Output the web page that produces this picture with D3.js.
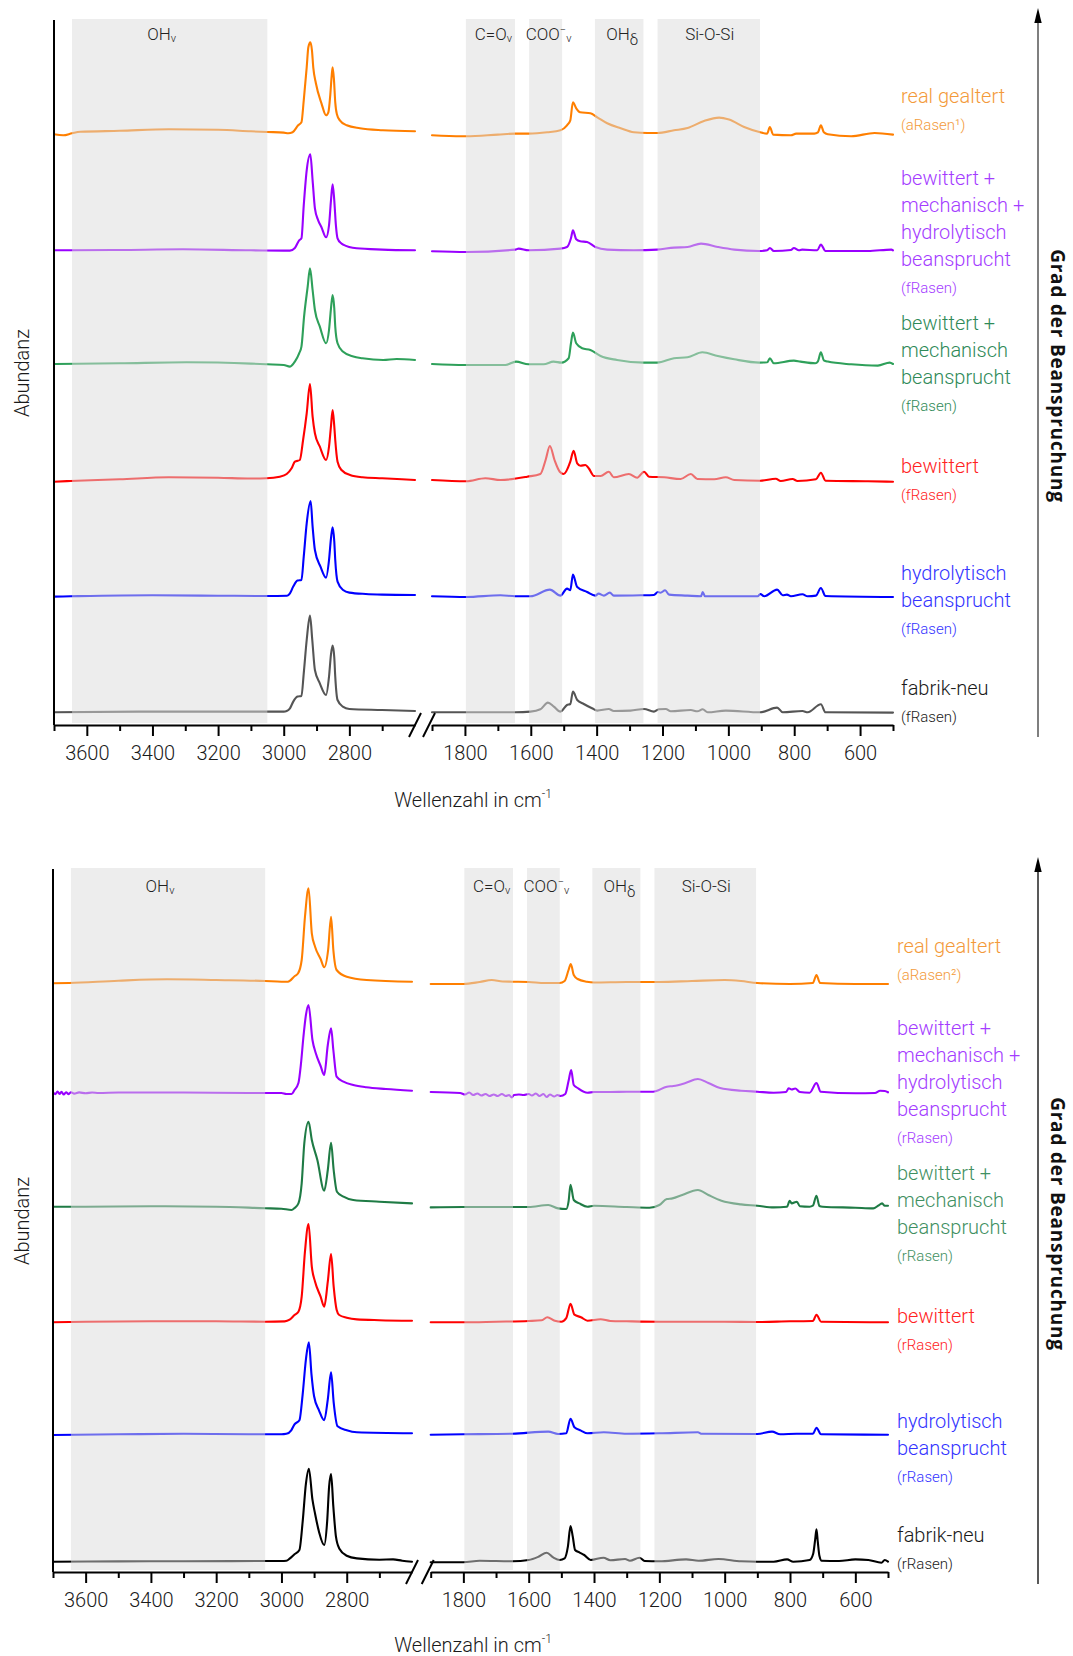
<!DOCTYPE html>
<html><head><meta charset="utf-8">
<script src="https://cdn.jsdelivr.net/npm/d3@7"></script>
<style>
html,body{margin:0;padding:0;background:#fff;}
svg{display:block;font-family:Roboto,"Noto Sans",sans-serif;}
</style></head><body>
<svg id="chart" width="1073" height="1656"></svg>
<script>
// ---------------- DATA ----------------
const domainLeft = [3700, 2600];
const domainRight = [1900, 500];
const majorTicksLeft = [3600, 3400, 3200, 3000, 2800];
const minorTicksLeft = [3700, 3500, 3300, 3100, 2900, 2700];
const majorTicksRight = [1800, 1600, 1400, 1200, 1000, 800, 600];
const minorTicksRight = [1900, 1700, 1500, 1300, 1100, 900, 700, 500];
const bandRanges = [[3645, 3050], [1797, 1648], [1605, 1505], [1405, 1258], [1215, 904]];
const bandLabelParts = [
  [["OH", ""], ["ν", "sub"]],
  [["C=O", ""], ["ν", "sub"]],
  [["COO", ""], ["−", "sup"], ["ν", "sub"]],
  [["OH", ""], ["δ", "subd"]],
  [["Si-O-Si", ""]]
];
const seriesKeys = ["real gealtert", "bewittert + mechanisch + hydrolytisch beansprucht", "bewittert + mechanisch beansprucht", "bewittert", "hydrolytisch beansprucht", "fabrik-neu"];
const labelLines = [["real gealtert"], ["bewittert +", "mechanisch +", "hydrolytisch", "beansprucht"], ["bewittert +", "mechanisch", "beansprucht"], ["bewittert"], ["hydrolytisch", "beansprucht"], ["fabrik-neu"]];
const subLabelsTop = ["(aRasen¹)", "(fRasen)", "(fRasen)", "(fRasen)", "(fRasen)", "(fRasen)"];
const subLabelsBottom = ["(aRasen²)", "(rRasen)", "(rRasen)", "(rRasen)", "(rRasen)", "(rRasen)"];
const offsetsTop = [5.907, 4.747, 3.617, 2.44, 1.287, 0.127];
const offsetsBottom = [5.89, 4.79, 3.653, 2.503, 1.377, 0.103];
const xAxisTitle = "Wellenzahl in cm";
const yAxisTitle = "Abundanz";
const arrowTitle = "Grad der Beanspruchung";

// ---- top panel spectra [wavenumber, intensity above offset] ----
const topOrangeL = [[3700,0],[3672,-0.01],[3645,0.01],[3620,0.025],[3500,0.035],[3350,0.05],[3200,0.045],[3100,0.03],[3050,0.023],[3000,0.017],[2986,0.01],[2973,0.02],[2956,0.09],[2946,0.12],[2939,0.34],[2930,0.67],[2925,0.87],[2919,0.92],[2914,0.84],[2910,0.67],[2902,0.51],[2885,0.31],[2871,0.19],[2864,0.22],[2858,0.40],[2854,0.58],[2851,0.67],[2847,0.55],[2843,0.32],[2838,0.20],[2829,0.14],[2808,0.09],[2768,0.06],[2698,0.04],[2600,0.03]];
const topOrangeR = [[1900,-0.01],[1810,-0.02],[1796,-0.02],[1700,-0.003],[1647,0.007],[1607,0.007],[1550,0.02],[1510,0.04],[1490,0.09],[1480,0.14],[1472,0.32],[1462,0.26],[1450,0.22],[1419,0.21],[1398,0.17],[1368,0.11],[1327,0.06],[1287,0.02],[1246,0.013],[1216,0.013],[1165,0.04],[1124,0.063],[1074,0.133],[1028,0.167],[998,0.147],[952,0.073],[906,0.023],[882,0.007],[874,0.073],[864,-0.003],[810,-0.01],[794,0.007],[739,0.007],[728,0.02],[719,0.09],[710,0.02],[698,0.0],[627,-0.02],[556,0.013],[500,-0.003]];
const topPurpleL = [[3700,0],[3650,0],[3500,0.003],[3307,0.01],[3100,0.0],[3000,-0.003],[2981,-0.003],[2966,0.023],[2953,0.10],[2946,0.12],[2939,0.45],[2930,0.80],[2919,0.96],[2912,0.70],[2905,0.42],[2895,0.30],[2885,0.23],[2871,0.13],[2862,0.25],[2856,0.50],[2851,0.66],[2846,0.50],[2841,0.25],[2836,0.12],[2825,0.07],[2819,0.057],[2778,0.02],[2700,0.007],[2600,0.0]];
const topPurpleR = [[1900,-0.01],[1796,-0.017],[1647,0.007],[1637,0.017],[1607,0.0],[1510,0.017],[1490,0.033],[1478,0.12],[1472,0.20],[1462,0.11],[1450,0.09],[1429,0.083],[1404,0.033],[1368,0.007],[1287,0.0],[1216,0.007],[1165,0.027],[1124,0.033],[1083,0.067],[1032,0.033],[982,0.007],[906,-0.007],[882,0.0],[874,0.023],[862,-0.007],[810,0.003],[801,0.023],[786,0.0],[776,0.007],[730,0.0],[719,0.057],[705,-0.007],[576,-0.007],[505,0.007],[500,0.0]];
const topGreenL = [[3700,-0.007],[3500,0.0],[3296,0.01],[3100,-0.003],[3050,-0.01],[3000,-0.017],[2981,-0.033],[2966,0.017],[2953,0.10],[2946,0.167],[2938,0.467],[2927,0.767],[2920,0.95],[2912,0.733],[2905,0.533],[2890,0.367],[2871,0.20],[2862,0.333],[2856,0.55],[2851,0.683],[2846,0.55],[2843,0.367],[2836,0.20],[2820,0.117],[2788,0.067],[2760,0.05],[2697,0.033],[2656,0.043],[2600,0.033]];
const topGreenR = [[1900,-0.007],[1800,-0.017],[1677,-0.017],[1645,0.017],[1607,-0.01],[1561,-0.01],[1531,0.017],[1507,0.007],[1485,0.05],[1478,0.20],[1472,0.307],[1462,0.20],[1444,0.15],[1419,0.133],[1388,0.073],[1338,0.033],[1257,0.007],[1216,0.007],[1165,0.05],[1124,0.06],[1079,0.11],[1032,0.073],[982,0.04],[906,0.007],[882,0.01],[874,0.05],[862,0.0],[801,0.027],[781,0.017],[736,0.0],[728,0.02],[719,0.11],[710,0.03],[698,0.017],[627,-0.01],[546,-0.023],[510,0.007],[500,-0.007]];
const topRedL = [[3700,-0.007],[3650,0.0],[3500,0.017],[3350,0.037],[3200,0.033],[3100,0.025],[3053,0.027],[3012,0.043],[2991,0.07],[2976,0.127],[2966,0.193],[2951,0.21],[2941,0.41],[2930,0.677],[2920,0.97],[2912,0.643],[2905,0.477],[2890,0.343],[2871,0.21],[2862,0.343],[2856,0.55],[2851,0.71],[2846,0.55],[2843,0.41],[2836,0.193],[2824,0.11],[2798,0.06],[2760,0.037],[2700,0.027],[2600,0.01]];
const topRedR = [[1900,0.01],[1796,-0.003],[1738,0.027],[1692,0.01],[1611,0.043],[1571,0.07],[1555,0.21],[1542,0.35],[1528,0.21],[1512,0.093],[1500,0.07],[1480,0.193],[1470,0.303],[1459,0.177],[1449,0.153],[1434,0.16],[1424,0.127],[1408,0.05],[1388,0.05],[1363,0.093],[1348,0.037],[1302,0.07],[1277,0.033],[1256,0.093],[1241,0.043],[1195,0.037],[1145,0.02],[1114,0.07],[1094,0.02],[1043,0.017],[1008,0.037],[982,0.01],[903,0.003],[856,0.023],[841,0.0],[805,0.02],[790,0.0],[734,0.017],[719,0.083],[705,0.003],[576,-0.003],[500,-0.007]];
const topBlueL = [[3700,-0.003],[3650,0],[3400,0.01],[3200,0.006],[3050,0.003],[2990,0.006],[2981,0.03],[2971,0.097],[2958,0.157],[2946,0.163],[2939,0.397],[2930,0.73],[2918,0.953],[2912,0.697],[2905,0.463],[2888,0.297],[2871,0.187],[2862,0.363],[2856,0.58],[2851,0.69],[2846,0.55],[2843,0.363],[2836,0.147],[2819,0.063],[2800,0.037],[2750,0.023],[2700,0.017],[2600,0.013]];
const topBlueR = [[1900,0],[1796,-0.007],[1692,0.01],[1647,0.0],[1601,0.0],[1542,0.067],[1510,0.007],[1490,0.077],[1480,0.06],[1472,0.217],[1459,0.093],[1429,0.043],[1404,0.007],[1394,0.027],[1378,0.007],[1360,0.037],[1348,0.007],[1267,0.01],[1226,0.013],[1214,0.043],[1206,0.035],[1192,0.06],[1180,0.017],[1124,0.007],[1083,0.0],[1078,0.043],[1071,0.0],[982,0.0],[911,0.0],[903,0.023],[891,0.0],[852,0.067],[835,0.01],[822,0.017],[810,0.0],[775,0.02],[759,0.0],[734,0.007],[719,0.083],[705,0.003],[500,-0.007]];
const topGrayL = [[3700,0],[3400,0.007],[3000,0.007],[2991,0.013],[2981,0.04],[2971,0.107],[2958,0.157],[2946,0.163],[2939,0.39],[2930,0.723],[2920,0.967],[2913,0.723],[2905,0.423],[2890,0.29],[2871,0.173],[2862,0.357],[2856,0.58],[2851,0.667],[2846,0.55],[2843,0.357],[2836,0.123],[2820,0.057],[2800,0.033],[2700,0.023],[2600,0.013]];
const topGrayR = [[1900,0],[1647,0.0],[1601,0.007],[1571,0.03],[1548,0.097],[1530,0.057],[1510,0.007],[1490,0.073],[1480,0.083],[1472,0.207],[1459,0.123],[1439,0.083],[1414,0.04],[1398,0.017],[1363,0.033],[1348,0.013],[1297,0.017],[1256,0.033],[1226,0.007],[1211,0.03],[1190,0.033],[1175,0.01],[1114,0.023],[1094,0.01],[1078,0.03],[1063,0.0],[1008,0.017],[903,0.0],[852,0.047],[835,0.0],[775,0.013],[759,0.0],[719,0.08],[705,0.0],[500,-0.003]];

// ---- bottom panel spectra ----
const botOrangeL = [[3700,-0.003],[3650,0.0],[3500,0.023],[3350,0.037],[3200,0.03],[3050,0.02],[3000,0.013],[2980,0.013],[2959,0.07],[2949,0.097],[2938,0.23],[2928,0.66],[2917,0.947],[2907,0.497],[2897,0.363],[2880,0.24],[2869,0.157],[2857,0.33],[2848,0.663],[2841,0.33],[2831,0.13],[2800,0.063],[2739,0.03],[2600,0.013]];
const botOrangeR = [[1900,-0.01],[1800,-0.01],[1750,0.01],[1713,0.03],[1680,0.015],[1650,0.013],[1600,0.01],[1550,0.0],[1505,0.0],[1490,0.02],[1478,0.13],[1471,0.19],[1462,0.08],[1450,0.04],[1422,0.013],[1400,0.005],[1300,0.01],[1200,0.01],[1100,0.02],[1000,0.03],[950,0.02],[900,0.0],[800,-0.01],[730,0.0],[719,0.08],[708,0.0],[600,-0.01],[500,-0.01]];
const botPurpleL = [[3700,0.01],[3693,-0.012],[3686,0.015],[3680,-0.01],[3674,0.012],[3667,-0.015],[3660,0.008],[3652,-0.012],[3645,0.008],[3635,-0.006],[3620,0.006],[3600,-0.003],[3580,0.005],[3560,0.0],[3500,0.005],[3300,0.005],[3100,0.0],[3000,0.0],[2985,-0.01],[2969,-0.01],[2960,0.03],[2948,0.10],[2940,0.30],[2933,0.55],[2925,0.78],[2917,0.88],[2905,0.53],[2895,0.40],[2880,0.27],[2869,0.18],[2858,0.48],[2848,0.647],[2841,0.43],[2831,0.163],[2810,0.113],[2780,0.08],[2740,0.057],[2680,0.04],[2600,0.023]];
const botPurpleR = [[1900,0.01],[1810,0.0],[1795,-0.015],[1782,0.005],[1770,-0.02],[1757,-0.005],[1745,-0.025],[1732,-0.01],[1720,-0.03],[1707,-0.015],[1695,-0.03],[1682,-0.01],[1670,-0.03],[1660,-0.02],[1652,-0.045],[1645,-0.02],[1630,-0.015],[1615,-0.02],[1600,-0.01],[1590,-0.025],[1578,-0.005],[1567,-0.03],[1555,-0.01],[1545,-0.04],[1535,-0.015],[1522,-0.035],[1512,-0.02],[1503,-0.03],[1488,-0.01],[1478,0.12],[1470,0.23],[1462,0.08],[1450,0.05],[1420,0.003],[1400,0.01],[1350,0.01],[1300,0.013],[1219,0.013],[1177,0.063],[1157,0.07],[1120,0.10],[1082,0.14],[1050,0.10],[1014,0.05],[950,0.023],[900,0.013],[850,0.003],[812,0.01],[804,0.047],[795,0.035],[784,0.045],[770,0.01],[740,0.003],[719,0.10],[706,0.013],[600,-0.003],[540,0.0],[524,0.023],[510,0.02],[500,0.007]];
const botGreenL = [[3700,0.0],[3600,0.0],[3400,0.005],[3200,0.0],[3050,-0.015],[3000,-0.02],[2969,-0.033],[2960,-0.013],[2948,0.033],[2938,0.233],[2930,0.633],[2917,0.85],[2907,0.667],[2890,0.467],[2869,0.16],[2858,0.367],[2848,0.64],[2840,0.367],[2830,0.15],[2810,0.10],[2780,0.067],[2700,0.05],[2600,0.033]];
const botGreenR = [[1900,-0.007],[1800,-0.003],[1700,-0.003],[1600,-0.003],[1540,0.017],[1510,-0.017],[1485,-0.023],[1478,0.05],[1472,0.22],[1462,0.067],[1445,0.033],[1420,0.0],[1400,0.01],[1300,-0.003],[1230,-0.01],[1200,0.017],[1177,0.077],[1160,0.083],[1130,0.117],[1082,0.167],[1050,0.117],[1010,0.06],[950,0.023],[900,0.01],[850,-0.007],[809,0.0],[801,0.06],[795,0.033],[779,0.05],[770,0.005],[740,0.0],[730,0.01],[719,0.11],[710,0.007],[700,0.0],[600,-0.01],[545,-0.017],[530,0.01],[518,0.033],[510,0.01],[500,0.01]];
const botRedL = [[3700,-0.005],[3600,0.0],[3400,0.005],[3200,0.005],[3050,0.0],[2990,0.003],[2975,0.02],[2960,0.067],[2948,0.10],[2938,0.25],[2928,0.70],[2917,0.977],[2907,0.55],[2897,0.40],[2880,0.25],[2869,0.15],[2858,0.40],[2848,0.677],[2840,0.35],[2831,0.12],[2823,0.067],[2800,0.04],[2769,0.023],[2700,0.015],[2600,0.01]];
const botRedR = [[1900,-0.006],[1800,-0.006],[1700,0.0],[1600,0.007],[1560,0.014],[1543,0.045],[1520,0.01],[1500,0.0],[1485,0.035],[1472,0.18],[1460,0.07],[1440,0.045],[1420,0.01],[1380,0.025],[1350,0.007],[1300,0.004],[1200,0.0],[1000,0.0],[900,-0.003],[800,0.004],[730,0.007],[719,0.07],[705,0.0],[500,-0.006]];
const botBlueL = [[3700,-0.007],[3500,0.0],[3300,0.005],[3100,0.0],[3000,0.0],[2985,0.005],[2970,0.04],[2960,0.10],[2945,0.14],[2935,0.40],[2925,0.75],[2916,0.92],[2908,0.60],[2900,0.38],[2885,0.24],[2869,0.14],[2858,0.35],[2848,0.62],[2840,0.32],[2828,0.08],[2800,0.04],[2769,0.02],[2600,0.01]];
const botBlueR = [[1900,-0.004],[1800,0.0],[1650,0.006],[1540,0.027],[1510,0.003],[1485,0.01],[1472,0.155],[1460,0.07],[1440,0.037],[1420,0.01],[1370,0.02],[1300,0.006],[1200,0.01],[1082,0.02],[1070,0.005],[900,0.003],[855,0.027],[830,0.0],[780,0.006],[730,0.005],[719,0.065],[705,0.0],[500,-0.004]];
const botBlackL = [[3700,0],[3500,0.003],[3300,0.005],[3000,0.007],[2985,0.01],[2975,0.03],[2960,0.075],[2945,0.117],[2935,0.40],[2925,0.78],[2916,0.93],[2905,0.62],[2897,0.48],[2885,0.30],[2869,0.167],[2860,0.40],[2854,0.75],[2848,0.877],[2841,0.55],[2833,0.25],[2823,0.133],[2800,0.06],[2769,0.033],[2700,0.02],[2658,0.023],[2630,0.01],[2600,0.0]];
const botBlackR = [[1900,-0.006],[1800,-0.006],[1750,0.01],[1650,0.004],[1600,0.017],[1570,0.05],[1545,0.09],[1525,0.043],[1505,0.017],[1490,0.033],[1480,0.15],[1472,0.357],[1465,0.25],[1458,0.117],[1445,0.093],[1430,0.067],[1410,0.017],[1371,0.04],[1350,0.014],[1305,0.027],[1290,0.01],[1261,0.04],[1245,0.007],[1200,0.004],[1118,0.023],[1080,0.01],[1019,0.027],[950,0.004],[900,0.0],[850,0.0],[809,0.023],[790,0.0],[740,0.017],[729,0.08],[723,0.22],[719,0.324],[715,0.2],[710,0.06],[703,0.01],[650,0.007],[600,0.023],[560,0.017],[520,-0.01],[510,0.017],[500,0.0]];

const topSpectraL = [topOrangeL, topPurpleL, topGreenL, topRedL, topBlueL, topGrayL];
const topSpectraR = [topOrangeR, topPurpleR, topGreenR, topRedR, topBlueR, topGrayR];
const botSpectraL = [botOrangeL, botPurpleL, botGreenL, botRedL, botBlueL, botBlackL];
const botSpectraR = [botOrangeR, botPurpleR, botGreenR, botRedR, botBlueR, botBlackR];

// ---------------- LAYOUT / STYLE ----------------
const panels = [
  { spectraL: topSpectraL, spectraR: topSpectraR, offsets: offsetsTop, subs: subLabelsTop,
    xl: [54, 415], xr: [432, 893], yAxis: 725, yTop: 20,
    labelX: 901, labelY: [103, 185, 330, 473, 580, 695], bandLabelY: 40,
    titleY: 807, abundY: 373, gradY: 376, arrowTip: 8, arrowEnd: 737, arrowColor: "#555",
    lineColors: ["#ff7f00", "#9900ff", "#2ea05a", "#ff0000", "#0000ff", "#555555"],
    labelColors: ["#f39a3a", "#a43cff", "#2f8a58", "#ff2222", "#3333ff", "#1a1a1a"] },
  { spectraL: botSpectraL, spectraR: botSpectraR, offsets: offsetsBottom, subs: subLabelsBottom,
    xl: [53, 412], xr: [430.7, 888], yAxis: 1572, yTop: 869,
    labelX: 897, labelY: [953, 1035, 1180, 1323, 1428, 1542], bandLabelY: 892,
    titleY: 1652, abundY: 1221, gradY: 1224, arrowTip: 857, arrowEnd: 1584, arrowColor: "#222",
    lineColors: ["#ff7f00", "#9900ff", "#1f7b45", "#ff0000", "#0000ff", "#000000"],
    labelColors: ["#f39a3a", "#a43cff", "#3f9062", "#ff2222", "#3333ff", "#1a1a1a"] }
];
const bandLabelDx = [-8, 3, 3, 3, 1];

const svg = d3.select("#chart");

function drawPanel(p) {
  const g = svg.append("g");
  const xL = d3.scaleLinear().domain(domainLeft).range(p.xl);
  const xR = d3.scaleLinear().domain(domainRight).range(p.xr);
  const y = d3.scaleLinear().domain([0, (p.yAxis - p.yTop) / 100]).range([p.yAxis, p.yTop]);

  // spectra
  const gl = g.append("g");
  [[p.spectraL, xL], [p.spectraR, xR]].forEach(([set, xs]) => {
    set.forEach((arr, i) => {
      const off = p.offsets[i];
      const line = d3.line().x(d => xs(d[0])).y(d => y(d[1] + off)).curve(d3.curveMonotoneX);
      const data = arr.slice().sort((a, b) => b[0] - a[0]);
      gl.append("path").attr("d", line(data)).attr("fill", "none")
        .attr("stroke", p.lineColors[i]).attr("stroke-width", 2.1)
        .attr("stroke-linejoin", "round").attr("stroke-linecap", "round");
    });
  });

  // bands (semi-transparent overlay that lightens the traces below)
  const gb = g.append("g");
  bandRanges.forEach((b, i) => {
    const xs = b[0] > 2000 ? xL : xR;
    const x0 = xs(b[0]), x1 = xs(b[1]);
    gb.append("rect").attr("x", x0).attr("y", p.yTop - 1).attr("width", x1 - x0)
      .attr("height", p.yAxis - 2 - (p.yTop - 1)).attr("fill", "#dcdcdc").attr("fill-opacity", 0.5);
    const t = gb.append("text").attr("x", (x0 + x1) / 2 + bandLabelDx[i]).attr("y", p.bandLabelY)
      .attr("text-anchor", "middle").attr("font-size", 17).attr("font-weight", 300).attr("fill", "#222");
    let shift = 0;
    bandLabelParts[i].forEach(([txt, kind]) => {
      const s = t.append("tspan").text(txt);
      let target = 0, fs = 17;
      if (kind === "sub") { target = 2; fs = 11; }
      if (kind === "subd") { target = 5; fs = 15; }
      if (kind === "sup") { target = -7; fs = 11; }
      s.attr("dy", target - shift).attr("font-size", fs);
      shift = target;
    });
  });

  // axes
  const ga = g.append("g").attr("transform", `translate(0,${p.yAxis})`);
  [[xL, majorTicksLeft, minorTicksLeft], [xR, majorTicksRight, minorTicksRight]].forEach(([xs, maj, min]) => {
    const a1 = ga.append("g").call(d3.axisBottom(xs).tickValues(maj).tickSize(11).tickPadding(10).tickSizeOuter(0).tickFormat(d3.format("d")));
    const a2 = ga.append("g").call(d3.axisBottom(xs).tickValues(min).tickSize(6).tickSizeOuter(0).tickFormat(""));
    a2.select(".domain").remove();
    [a1, a2].forEach(a => {
      a.selectAll("line").attr("stroke", "#000").attr("stroke-width", 2);
      a.select(".domain").attr("stroke", "#000").attr("stroke-width", 2);
      a.selectAll("text").attr("font-size", 20).attr("font-weight", 300).attr("fill", "#1a1a1a")
        .attr("font-family", "Roboto, sans-serif");
    });
  });
  // axis break marks
  [xL(domainLeft[1]), xR(domainRight[0]) - 3].forEach(cx => {
    ga.append("line").attr("x1", cx - 6).attr("y1", 12).attr("x2", cx + 6).attr("y2", -12)
      .attr("stroke", "#000").attr("stroke-width", 2);
  });
  // y axis line
  g.append("line").attr("x1", p.xl[0]).attr("x2", p.xl[0]).attr("y1", p.yTop).attr("y2", p.yAxis)
    .attr("stroke", "#000").attr("stroke-width", 2);

  // axis titles
  const tt = g.append("text").attr("x", 473).attr("y", p.titleY).attr("text-anchor", "middle")
    .attr("font-size", 20).attr("font-weight", 300).attr("fill", "#1a1a1a");
  tt.append("tspan").text(xAxisTitle);
  tt.append("tspan").text("-1").attr("font-size", 12).attr("dy", -9);
  g.append("text").attr("transform", `translate(29,${p.abundY}) rotate(-90)`).attr("text-anchor", "middle")
    .attr("font-size", 20).attr("font-weight", 300).attr("fill", "#1a1a1a").text(yAxisTitle);

  // series labels
  labelLines.forEach((lines, i) => {
    let yy = p.labelY[i];
    lines.forEach((ln, k) => {
      g.append("text").attr("x", p.labelX).attr("y", yy + k * 27).attr("font-size", 20)
        .attr("font-weight", 300).attr("fill", p.labelColors[i]).text(ln);
    });
    g.append("text").attr("x", p.labelX).attr("y", yy + lines.length * 27).attr("font-size", 15)
      .attr("font-weight", 300).attr("fill", p.labelColors[i]).text(p.subs[i]);
  });

  // arrow + title
  g.append("line").attr("x1", 1038).attr("x2", 1038).attr("y1", p.arrowTip + 12).attr("y2", p.arrowEnd)
    .attr("stroke", p.arrowColor).attr("stroke-width", 1.5);
  g.append("path").attr("d", `M1038,${p.arrowTip} L1034.3,${p.arrowTip + 15} L1041.7,${p.arrowTip + 15} Z`).attr("fill", "#000");
  g.append("text").attr("transform", `translate(1051,${p.gradY}) rotate(90)`).attr("text-anchor", "middle")
    .attr("font-family", "'Open Sans', sans-serif").attr("font-weight", 700).attr("font-size", 19)
    .attr("letter-spacing", 0.8).attr("fill", "#111").text(arrowTitle);
}
panels.forEach(drawPanel);
</script>
</body></html>
